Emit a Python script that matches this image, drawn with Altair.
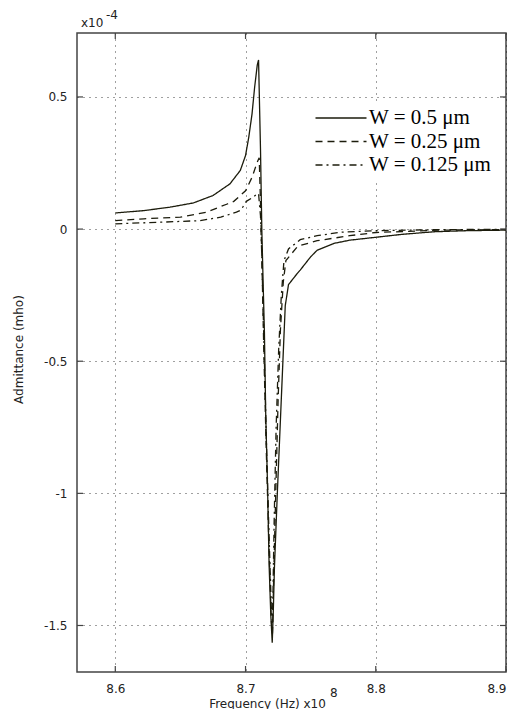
import altair as alt
import pandas as pd

# ---------------- data (frequency in units of 1e8 Hz, admittance in units of 1e-4 mho)
series_names = ["W = 0.5 μm", "W = 0.25 μm", "W = 0.125 μm"]

freq_w050 = [8.600, 8.622, 8.642, 8.660, 8.675, 8.688, 8.696, 8.700, 8.7025, 8.705,
             8.707, 8.709, 8.7100, 8.7115, 8.7125, 8.7135, 8.7145, 8.7155, 8.7168,
             8.7181, 8.7194, 8.7205, 8.7213, 8.7222, 8.7245, 8.7287, 8.7305, 8.733,
             8.7394, 8.742, 8.750, 8.755, 8.768, 8.780, 8.800, 8.820, 8.845, 8.870, 8.900]
adm_w050 = [0.061, 0.070, 0.083, 0.099, 0.127, 0.171, 0.222, 0.278, 0.348, 0.436,
            0.537, 0.620, 0.640, 0.300, 0.000, -0.200, -0.390, -0.700, -0.950,
            -1.270, -1.460, -1.565, -1.450, -1.280, -0.990, -0.500, -0.290, -0.210,
            -0.170, -0.155, -0.105, -0.080, -0.054, -0.042, -0.031, -0.020, -0.010, -0.006, -0.004]

freq_w025 = [8.600, 8.622, 8.650, 8.670, 8.686, 8.691, 8.696, 8.700, 8.705, 8.709,
             8.7105, 8.7115, 8.7125, 8.714, 8.716, 8.718, 8.7198, 8.7207, 8.7217,
             8.7232, 8.7250, 8.7268, 8.729, 8.731, 8.7394, 8.742, 8.755, 8.780,
             8.800, 8.850, 8.900]
adm_w025 = [0.032, 0.039, 0.045, 0.064, 0.095, 0.105, 0.127, 0.145, 0.196, 0.253,
            0.270, 0.100, -0.100, -0.450, -0.850, -1.200, -1.480, -1.530, -1.300,
            -1.000, -0.650, -0.380, -0.200, -0.119, -0.069, -0.062, -0.044, -0.025,
            -0.013, -0.004, -0.002]

freq_w0125 = [8.600, 8.635, 8.665, 8.681, 8.693, 8.6965, 8.7006, 8.7050, 8.7088, 8.7100,
              8.7115, 8.7125, 8.714, 8.716, 8.718, 8.7198, 8.7207, 8.7220, 8.7235,
              8.7255, 8.7275, 8.7295, 8.733, 8.742, 8.755, 8.773, 8.800, 8.850, 8.900]
adm_w0125 = [0.020, 0.026, 0.032, 0.045, 0.064, 0.072, 0.105, 0.118, 0.133, 0.135,
             0.050, -0.100, -0.400, -0.800, -1.150, -1.430, -1.490, -1.100, -0.750,
             -0.450, -0.250, -0.120, -0.075, -0.040, -0.025, -0.012, -0.006, -0.002, -0.001]

x_ticks = [8.6, 8.7, 8.8, 8.9]
y_ticks = [-1.5, -1, -0.5, 0, 0.5]
x_domain = [8.5706, 8.9]
y_domain = [-1.676, 0.742]

x_title = "Frequency (Hz) x10"
x_exp = "8"
y_title = "Admittance (mho)"
y_mult = "x10"
y_exp = "-4"

# ---------------- build tables
rows = []
for name, fs, vs in zip(series_names, [freq_w050, freq_w025, freq_w0125],
                        [adm_w050, adm_w025, adm_w0125]):
    for i, (f, v) in enumerate(zip(fs, vs)):
        rows.append({"series": name, "f": f, "v": v, "i": i})
df = pd.DataFrame(rows)
xt = pd.DataFrame({"f": x_ticks})
yt = pd.DataFrame({"v": y_ticks})

W, H = 429, 639
ink = "#1c1c0c"
lab = "#222222"
font = "DejaVu Sans"

xs = alt.Scale(domain=x_domain, nice=False, zero=False)
ys = alt.Scale(domain=y_domain, nice=False, zero=False)

grid_common = dict(grid=True, gridDash=[1, 5], gridColor="#000000", gridOpacity=0.75,
                   gridWidth=1, domain=False, ticks=False, labelFont=font,
                   labelFontSize=12, labelColor=lab, titleFont=font, titleFontSize=12,
                   titleFontWeight="normal", titleColor=lab, labelExpr="'' + datum.value")

lines = alt.Chart(df).mark_line(strokeWidth=1.3, color=ink).encode(
    x=alt.X("f:Q", scale=xs, axis=alt.Axis(values=x_ticks, title=x_title, labelPadding=11,
                                           titleX=190, titleY=31, titleAlign="center",
                                           titleBaseline="middle", **grid_common)),
    y=alt.Y("v:Q", scale=ys, axis=alt.Axis(values=y_ticks, title=y_title, labelPadding=10,
                                           titleX=-59, titleY=316, titleAngle=270,
                                           titleAlign="center", titleBaseline="middle",
                                           **grid_common)),
    strokeDash=alt.StrokeDash(
        "series:N",
        scale=alt.Scale(domain=series_names, range=[[1, 0], [7, 5], [7, 4, 2, 4]]),
        legend=alt.Legend(title=None, orient="none", legendX=249, legendY=70,
                          symbolType="M-2.55,0H2.55", symbolSize=400, symbolStrokeWidth=1.5,
                          symbolStrokeColor=ink, labelFont="Liberation Serif",
                          labelFontSize=21, labelColor="#000000", labelOffset=17,
                          rowPadding=2.5, fillColor="white", padding=4, labelLimit=300)),
    order="i:Q",
)

tick_len = 6
tick_style = dict(color="#444444", strokeWidth=1.2)
xb = alt.Chart(xt).mark_rule(**tick_style).encode(
    x=alt.X("f:Q", scale=xs), y=alt.value(H), y2=alt.value(H - tick_len))
xtp = alt.Chart(xt).mark_rule(**tick_style).encode(
    x=alt.X("f:Q", scale=xs), y=alt.value(0), y2=alt.value(tick_len))
yl = alt.Chart(yt).mark_rule(**tick_style).encode(
    y=alt.Y("v:Q", scale=ys), x=alt.value(0), x2=alt.value(tick_len))
yr = alt.Chart(yt).mark_rule(**tick_style).encode(
    y=alt.Y("v:Q", scale=ys), x=alt.value(W), x2=alt.value(W - tick_len))

txt_style = dict(font=font, fontSize=12, color=lab, align="left", baseline="middle")
mult = alt.Chart(pd.DataFrame({"t": [y_mult]})).mark_text(**txt_style).encode(
    text="t:N", x=alt.value(4), y=alt.value(-10))
yexp = alt.Chart(pd.DataFrame({"t": [y_exp]})).mark_text(**txt_style).encode(
    text="t:N", x=alt.value(29), y=alt.value(-18))
xexp = alt.Chart(pd.DataFrame({"t": [x_exp]})).mark_text(**txt_style).encode(
    text="t:N", x=alt.value(253), y=alt.value(H + 21))

chart = alt.layer(lines, xb, xtp, yl, yr, mult, yexp, xexp).properties(
    width=W, height=H,
    autosize=alt.AutoSizeParams(type="none"),
    padding={"left": 69, "top": 25, "right": 1, "bottom": 37},
    background="white",
).configure_view(stroke="#444444", strokeWidth=1.5)

chart.save("out.html", embed_options={"renderer": "svg", "actions": False})
